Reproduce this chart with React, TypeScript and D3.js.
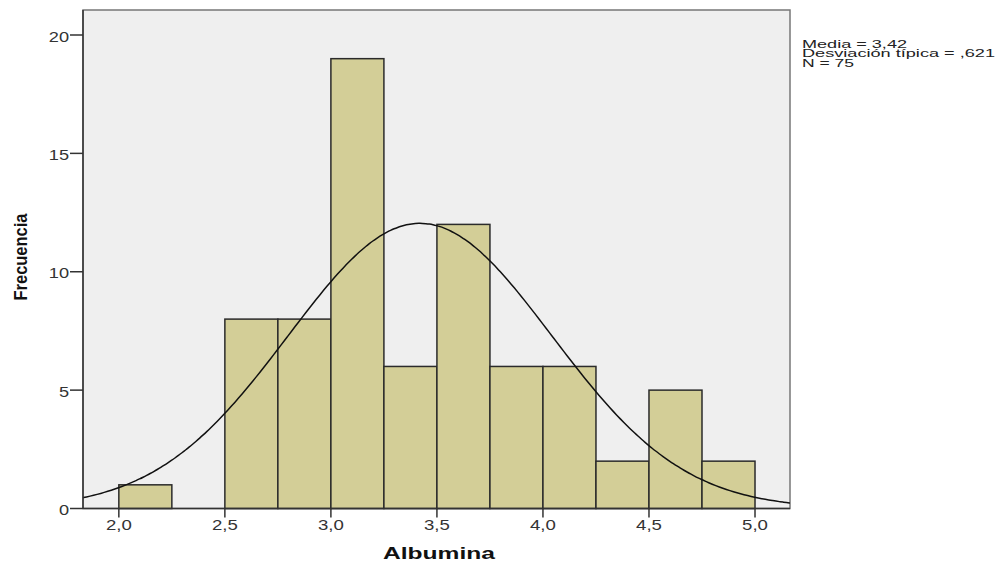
import React from "react";
import * as d3 from "d3";

// histogram bins (lower edge) and counts
const binStarts = [2.0, 2.25, 2.5, 2.75, 3.0, 3.25, 3.5, 3.75, 4.0, 4.25, 4.5, 4.75];
const counts = [1, 0, 8, 8, 19, 6, 12, 6, 6, 2, 5, 2];
const binWidth = 0.25;

const xTicks = [2.0, 2.5, 3.0, 3.5, 4.0, 4.5, 5.0];
const yTicks = [0, 5, 10, 15, 20];

const mean = 3.42;
const sd = 0.621;
const n = 75;
const statsLines = ["Media = 3,42", "Desviación típica = ,621", "N = 75"];
const statsWidths = [105, 193, 52];

export default function App() {
  const width = 1000;
  const height = 565;
  const margin = { top: 10, right: 210, bottom: 56, left: 83 };

  const x = d3.scaleLinear().domain([1.831, 5.165]).range([margin.left, width - margin.right]);
  const y = d3.scaleLinear().domain([0, 20]).range([508.5, 35]);

  const fmt = (v: number) => v.toFixed(1).replace(".", ",");

  // fitted normal curve from the reported mean / sd / N
  const curveXs = d3.range(0, 201).map((i) => 1.831 + (i / 200) * (5.165 - 1.831));
  const density = (v: number) =>
    ((n * binWidth) / (sd * Math.sqrt(2 * Math.PI))) * Math.exp(-0.5 * ((v - mean) / sd) ** 2);
  const line = d3
    .line<number>()
    .x((d) => x(d))
    .y((d) => y(density(d)))
    .curve(d3.curveBasis);

  const bottom = y(0);

  return (
    <svg
      width={width}
      height={height}
      style={{ position: "absolute", left: 0, top: 0, fontFamily: "'Liberation Sans', Arial, sans-serif" }}
    >
      <rect x={0} y={0} width={width} height={height} fill="#ffffff" />
      {/* plot area */}
      <rect
        x={margin.left}
        y={margin.top}
        width={x.range()[1] - margin.left}
        height={bottom - margin.top}
        fill="#efefef"
        stroke="#777"
        strokeWidth={1.5}
      />

      {/* bars */}
      {binStarts.map((b, i) =>
        counts[i] > 0 ? (
          <rect
            key={i}
            x={x(b)}
            y={y(counts[i])}
            width={x(b + binWidth) - x(b)}
            height={bottom - y(counts[i])}
            fill="#d3ce97"
            stroke="#2b2b2b"
            strokeWidth={1.5}
          />
        ) : null
      )}

      {/* normal curve */}
      <path d={line(curveXs) || ""} fill="none" stroke="#111" strokeWidth={1.5} />

      {/* axes lines */}
      <line x1={margin.left} x2={margin.left} y1={margin.top} y2={bottom} stroke="#333" strokeWidth={1.5} />
      <line x1={margin.left} x2={x.range()[1]} y1={bottom} y2={bottom} stroke="#333" strokeWidth={1.5} />

      {/* y ticks */}
      {yTicks.map((t) => (
        <g key={t}>
          <line x1={margin.left - 13} x2={margin.left} y1={y(t)} y2={y(t)} stroke="#333" strokeWidth={1.5} />
          <text
            transform={`translate(${margin.left - 14}, ${y(t) + 6.5}) scale(1.3, 1)`}
            textAnchor="end"
            fontSize={14}
            fill="#333"
          >
            {t}
          </text>
        </g>
      ))}

      {/* x ticks */}
      {xTicks.map((t) => (
        <g key={t}>
          <line x1={x(t)} x2={x(t)} y1={bottom} y2={bottom + 9} stroke="#333" strokeWidth={1.5} />
          <text
            transform={`translate(${x(t)}, 530) scale(1.33, 1)`}
            textAnchor="middle"
            fontSize={14}
            fill="#333"
          >
            {fmt(t)}
          </text>
        </g>
      ))}

      {/* axis titles */}
      <text
        x={439}
        y={559}
        textAnchor="middle"
        fontSize={17}
        fontWeight="bold"
        fill="#111"
        textLength={112}
        lengthAdjust="spacingAndGlyphs"
      >
        Albumina
      </text>
      <text
        transform={`translate(27, 257) rotate(-90) scale(1, 1.15)`}
        textAnchor="middle"
        fontSize={16}
        fontWeight="bold"
        fill="#111"
        textLength={87}
        lengthAdjust="spacingAndGlyphs"
      >
        Frecuencia
      </text>

      {/* stats box text */}
      {statsLines.map((s, i) => (
        <text
          key={s}
          x={802}
          y={47.5 + i * 9.6}
          fontSize={11}
          fill="#222"
          textLength={statsWidths[i]}
          lengthAdjust="spacingAndGlyphs"
        >
          {s}
        </text>
      ))}
    </svg>
  );
}
